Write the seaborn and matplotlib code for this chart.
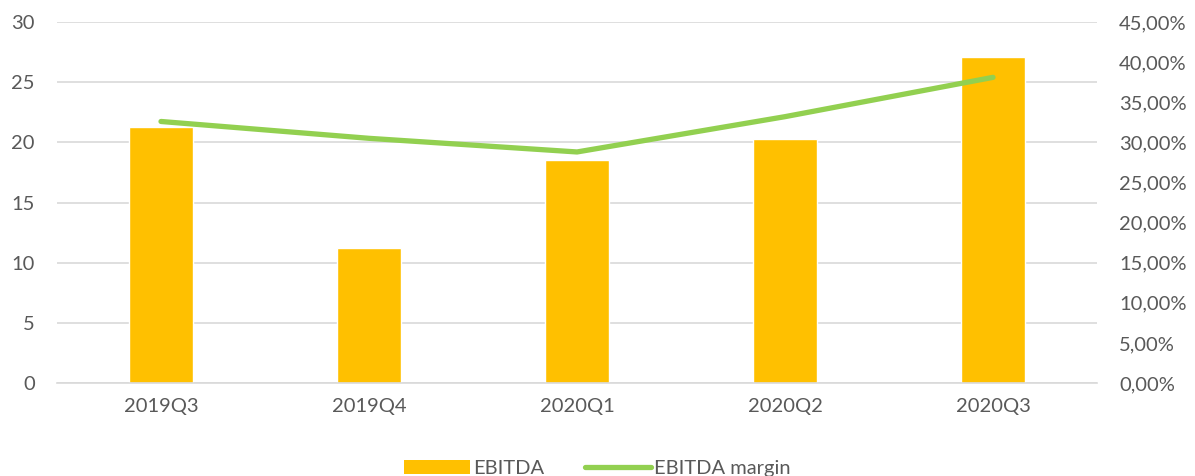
#!/usr/bin/env python3
import pandas as pd
import seaborn as sns
import matplotlib as mpl
import matplotlib.pyplot as plt
from matplotlib.ticker import FuncFormatter
from matplotlib.patches import Patch
from matplotlib.lines import Line2D

sns.set_theme(style="white")
plt.rcParams["font.family"] = ["Lato", "DejaVu Sans"]

quarters = ["2019Q3", "2019Q4", "2020Q1", "2020Q2", "2020Q3"]
ebitda = [21.3, 11.2, 18.5, 20.3, 27.1]
margin = [32.6, 30.5, 28.8, 33.2, 38.1]

df = pd.DataFrame({"quarter": quarters, "ebitda": ebitda, "margin": margin})

bar_color = "#FFC000"
line_color = "#92D050"
text_color = "#595959"
grid_color = "#D9D9D9"

fig = plt.figure(figsize=(11.95, 4.76), dpi=100)
ax = fig.add_axes([57 / 1195, 93 / 476, 1040 / 1195, 361 / 476])

sns.barplot(data=df, x="quarter", y="ebitda", color=bar_color, width=0.31,
            saturation=1, ax=ax, zorder=2)
ax.set_ylim(0, 30)
ax.set_yticks(range(0, 31, 5))
ax.set_xlabel(None)
ax.set_ylabel(None)
ax.grid(axis="y", color=grid_color, linewidth=1.2, zorder=0)
ax.set_axisbelow(True)
for s in ["top", "right", "left"]:
    ax.spines[s].set_visible(False)
ax.spines["bottom"].set_color(grid_color)
ax.spines["bottom"].set_linewidth(1.2)
ax.tick_params(axis="both", length=0, labelsize=14.5, labelcolor=text_color)
ax.tick_params(axis="x", pad=11)
ax.tick_params(axis="y", pad=16)

ax2 = ax.twinx()
sns.pointplot(data=df, x="quarter", y="margin", color=line_color, markers="",
              linewidth=3.8, ax=ax2)
for ln in ax2.lines:
    ln.set_solid_capstyle("round")
    ln.set_solid_joinstyle("round")
ax2.set_ylim(0, 45)
ax2.set_yticks(range(0, 46, 5))
ax2.yaxis.set_major_formatter(FuncFormatter(lambda v, p: f"{v:.2f}%".replace(".", ",")))
ax2.set_xlabel(None)
ax2.set_ylabel(None)
for s in ["top", "right", "left", "bottom"]:
    ax2.spines[s].set_visible(False)
ax2.tick_params(axis="y", length=0, labelsize=14.5, labelcolor=text_color, pad=16)
ax.set_xlim(-0.5, 4.5)

handles = [
    Patch(facecolor=bar_color, edgecolor="none", label="EBITDA"),
    Line2D([0], [0], color=line_color, lw=3.8, solid_capstyle="round", label="EBITDA margin"),
]
fig.legend(handles=handles, loc="lower center", bbox_to_anchor=(0.5, -0.04), ncol=2,
           frameon=False, fontsize=14.5, labelcolor=text_color, handlelength=3.3,
           handletextpad=0.15, columnspacing=2.0)

plt.savefig("out.png", dpi=100)
